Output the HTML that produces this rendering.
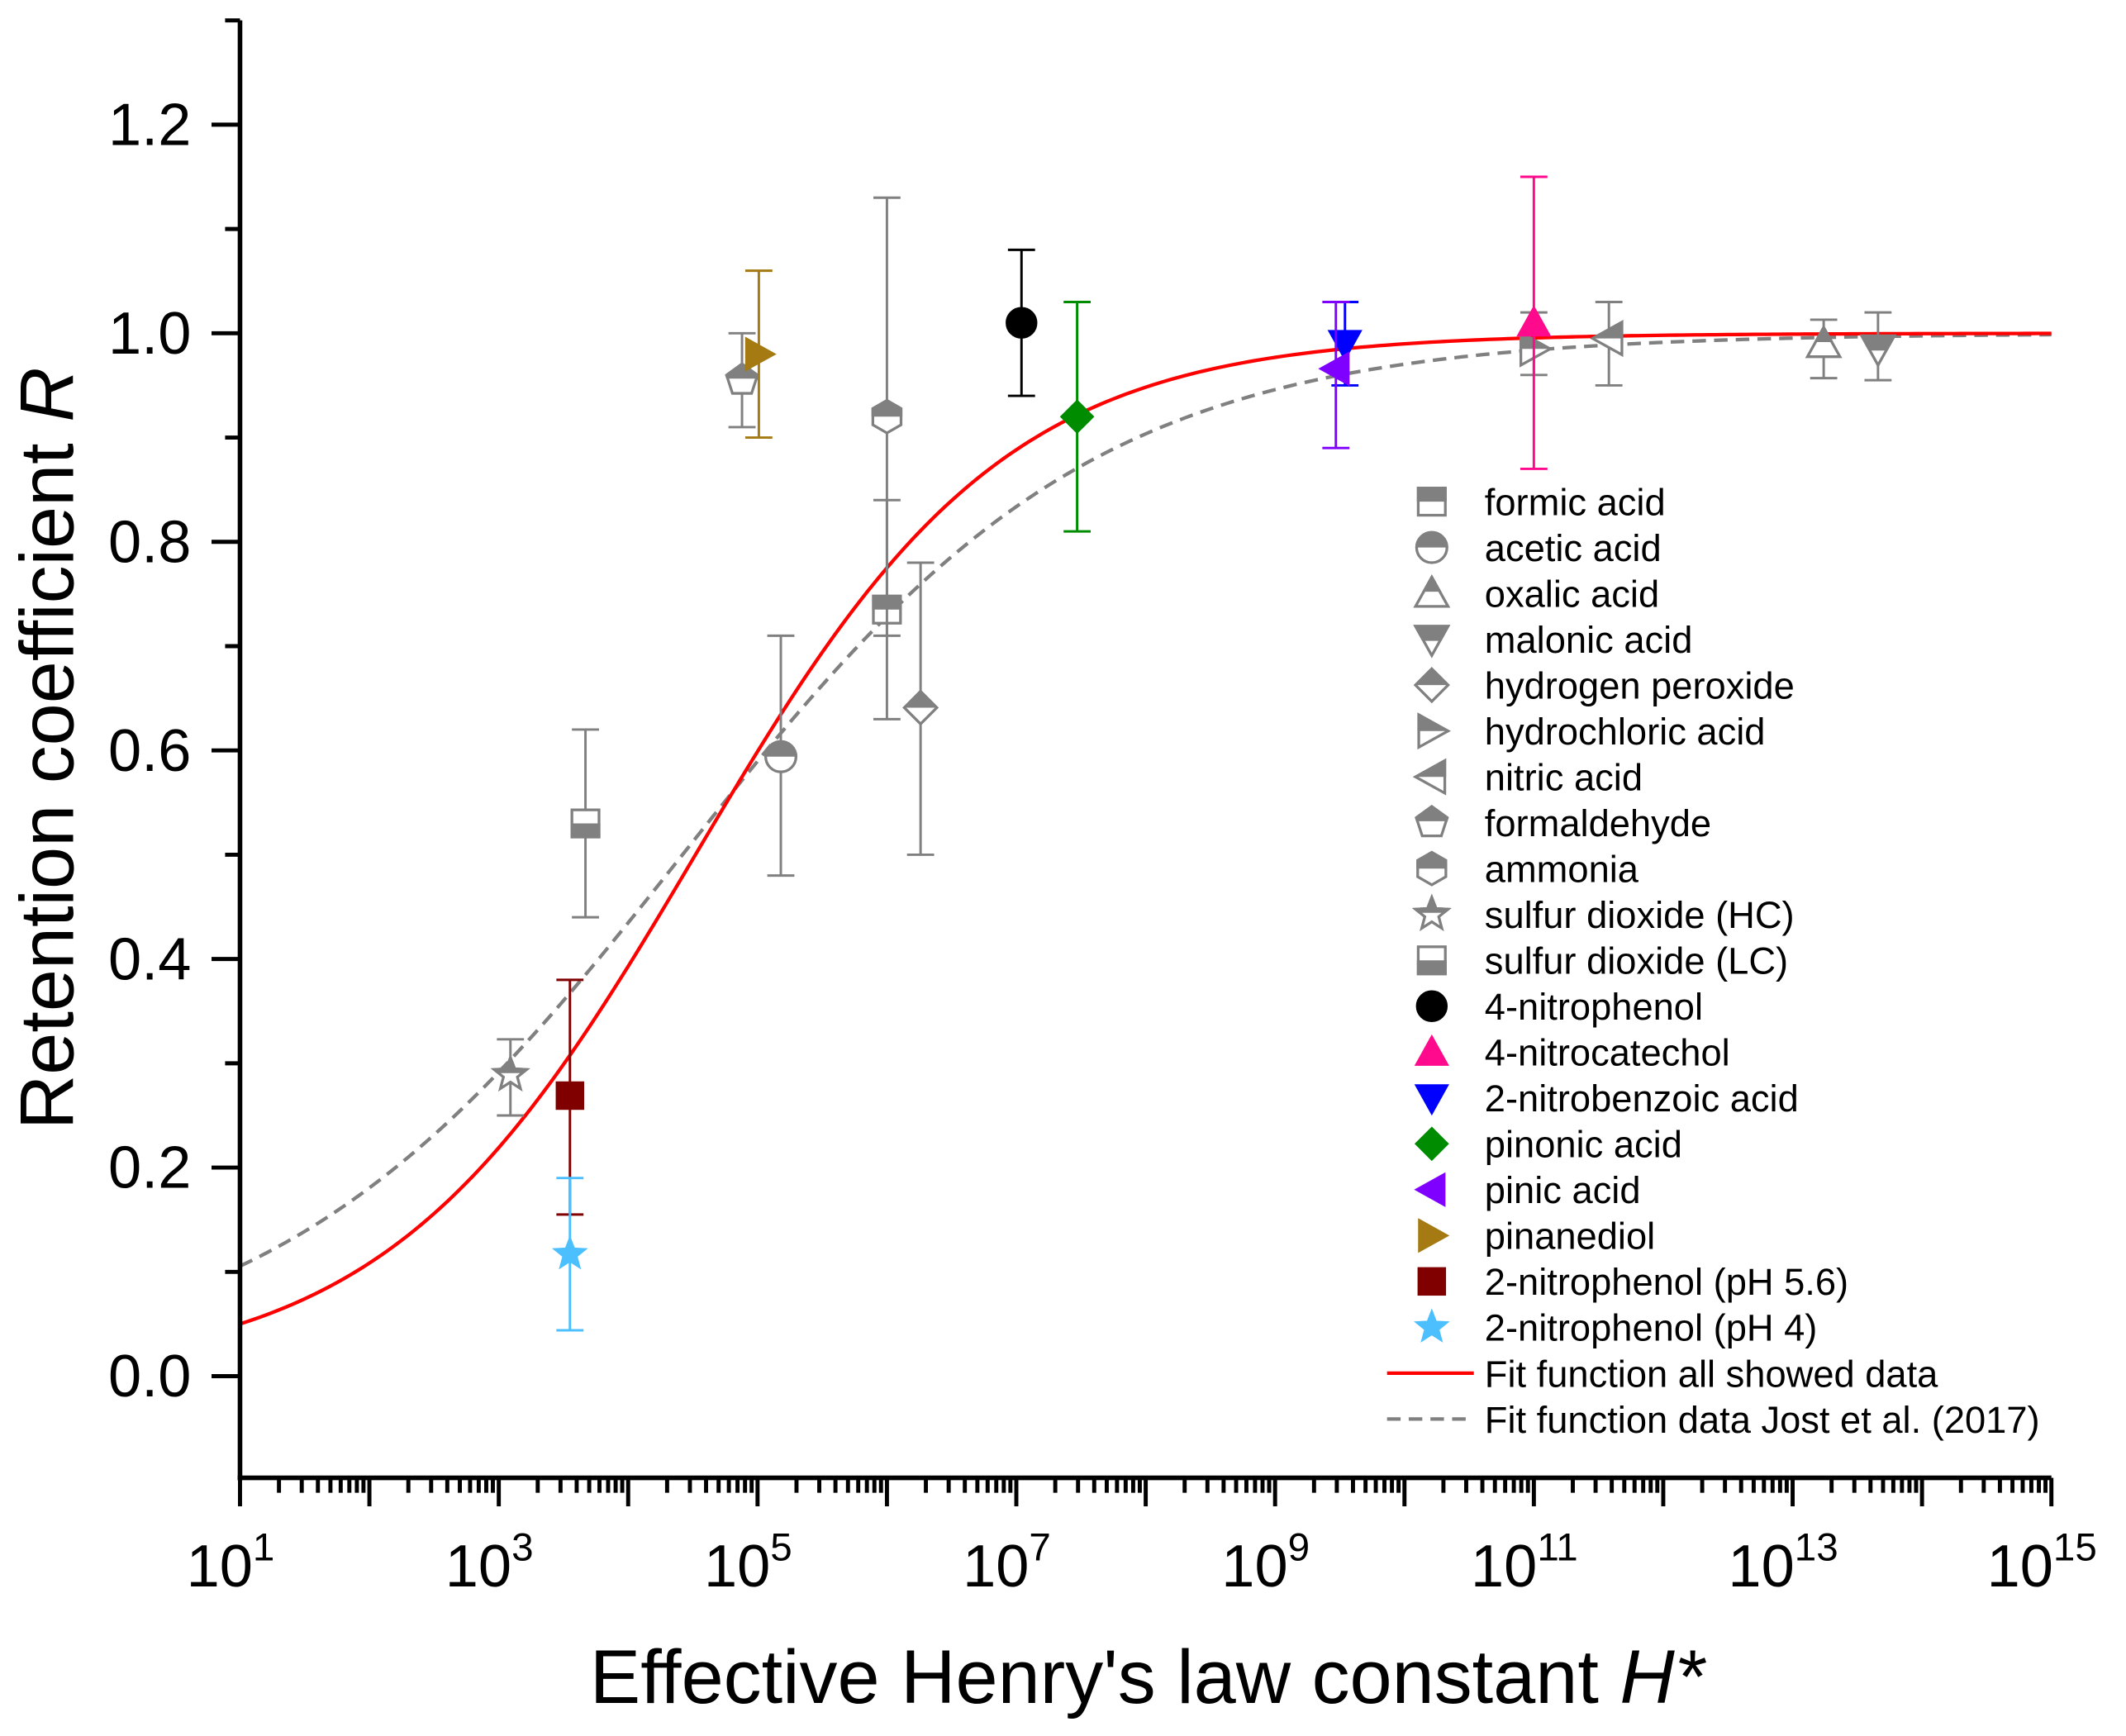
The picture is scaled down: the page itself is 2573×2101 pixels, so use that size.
<!DOCTYPE html>
<html><head><meta charset="utf-8"><style>
html,body{margin:0;padding:0;background:#fff}
svg{display:block}
text{font-family:"Liberation Sans",Arial,sans-serif}
</style></head><body>
<svg id="chart" width="2573" height="2101" viewBox="0 0 1568 1280.4" xmlns="http://www.w3.org/2000/svg">
<defs><clipPath id="topHalf" clipPathUnits="objectBoundingBox"><rect x="-0.1" y="-0.1" width="1.2" height="0.6"/></clipPath>
<clipPath id="botHalf" clipPathUnits="objectBoundingBox"><rect x="-0.1" y="0.5" width="1.2" height="0.6"/></clipPath></defs>
<g id="plot"></g>
</svg>
<script>
const seriesNames=["formic acid","acetic acid","oxalic acid","malonic acid","hydrogen peroxide","hydrochloric acid","nitric acid","formaldehyde","ammonia","sulfur dioxide (HC)","sulfur dioxide (LC)","4-nitrophenol","4-nitrocatechol","2-nitrobenzoic acid","pinonic acid","pinic acid","pinanediol","2-nitrophenol (pH 5.6)","2-nitrophenol (pH 4)"];
const seriesLogH=[6.0,5.18,13.24,13.66,6.26,11.0,11.58,4.88,6.0,3.09,3.67,7.04,11.0,9.54,7.47,9.47,5.01,3.55,3.55];
const seriesR=[0.735,0.594,0.99,0.985,0.641,0.985,0.995,0.955,0.92,0.289,0.53,1.01,1.01,0.99,0.92,0.966,0.98,0.269,0.117];
const errLow=[0.63,0.48,0.957,0.955,0.50,0.96,0.95,0.91,0.71,0.25,0.44,0.94,0.87,0.95,0.81,0.89,0.90,0.155,0.044];
const errHigh=[0.84,0.71,1.013,1.02,0.78,1.02,1.03,1.0,1.13,0.323,0.62,1.08,1.15,1.03,1.03,1.03,1.06,0.38,0.19];
const shapes=["square","circle","up","down","diamond","right","left","pentagon","hexagon","star","square","circle","up","down","diamond","left","right","square","star"];
const fills=["top","top","top","top","top","top","top","top","top","top","bottom","full","full","full","full","full","full","full","full"];
const colors=["#808080","#808080","#808080","#808080","#808080","#808080","#808080","#808080","#808080","#808080","#808080","#000000","#ff0a8c","#0000ff","#008c00","#8000ff","#a57a12","#800000","#4cbfff"];
const xTickExp=[1,3,5,7,9,11,13,15];
const yTicks=[0.0,0.2,0.4,0.6,0.8,1.0,1.2];
const fitRed=[4.52,0.836];
const fitGray=[4.42,0.625];

const NS="http://www.w3.org/2000/svg";
const g=document.getElementById('plot');
const X0=177,X1=1513,Y0=1090,Ytop=15;
const xS=l=>X0+(l-1)*(X1-X0)/14;
const yS=v=>1015-v*769.2;
function mk(tag,at,parent){const e=document.createElementNS(NS,tag);for(const k in at)e.setAttribute(k,at[k]);(parent||g).appendChild(e);return e;}

function curve(p,stroke,dash,name){let d="";for(let l=1;l<=15.0001;l+=0.05){const r=1/(1+Math.exp(-(l-p[0])*p[1]));d+=(d?"L":"M")+xS(l).toFixed(2)+","+yS(r).toFixed(2);}
const e=mk('path',{d:d,fill:'none',stroke:stroke,'stroke-width':2.6,'stroke-dasharray':dash});

}
curve(fitGray,'#808080','10,6','fit-curve-jost-2017');
curve(fitRed,'#ff0000','none','fit-curve-all-data');

function shapeEl(type,cx,cy,s,attrs,parent){
  let e;
  if(type==="square") e=mk('rect',Object.assign({x:cx-s,y:cy-s,width:2*s,height:2*s},attrs),parent);
  else if(type==="circle") e=mk('circle',Object.assign({cx:cx,cy:cy,r:s*1.12},attrs),parent);
  else {
    let pts=[];const k=s*1.2;
    if(type==="up") pts=[[0,-k],[k,k*0.8],[-k,k*0.8]];
    else if(type==="down") pts=[[0,k],[k,-k*0.8],[-k,-k*0.8]];
    else if(type==="diamond") pts=[[0,-k],[k,0],[0,k],[-k,0]];
    else if(type==="right") pts=[[-k*0.8,-k],[k,0],[-k*0.8,k]];
    else if(type==="left") pts=[[k*0.8,-k],[-k,0],[k*0.8,k]];
    else if(type==="pentagon"){for(let i=0;i<5;i++){const a=-Math.PI/2+i*2*Math.PI/5;pts.push([k*Math.cos(a),k*Math.sin(a)]);}}
    else if(type==="hexagon"){for(let i=0;i<6;i++){const a=-Math.PI/2+i*Math.PI/3;pts.push([k*Math.cos(a),k*Math.sin(a)]);}}
    else if(type==="star"){for(let i=0;i<10;i++){const a=-Math.PI/2+i*Math.PI/5;const r=i%2?k*0.45:k*1.05;pts.push([r*Math.cos(a),r*Math.sin(a)]);}}
    e=mk('polygon',Object.assign({points:pts.map(p=>(cx+p[0]).toFixed(2)+","+(cy+p[1]).toFixed(2)).join(" ")},attrs),parent);
  }
  return e;
}
function marker(i,cx,cy,parent){
  const c=colors[i],s=10;
  if(fills[i]==="full"){shapeEl(shapes[i],cx,cy,s,{fill:c,stroke:c,'stroke-width':1},parent);}
  else{
    shapeEl(shapes[i],cx,cy,s,{fill:'#fff',stroke:c,'stroke-width':2},parent);
    shapeEl(shapes[i],cx,cy,s,{fill:c,stroke:c,'stroke-width':2,'clip-path':fills[i]==="top"?'url(#topHalf)':'url(#botHalf)'},parent);
  }
}

for(let i=0;i<seriesNames.length;i++){
  const cx=xS(seriesLogH[i]),cy=yS(seriesR[i]);
  const grp=mk('g',{});
  
  
  const yl=yS(errLow[i]),yh=yS(errHigh[i]);
  mk('line',{x1:cx,x2:cx,y1:yl,y2:yh,stroke:colors[i],'stroke-width':1.8},grp);
  mk('line',{x1:cx-10,x2:cx+10,y1:yl,y2:yl,stroke:colors[i],'stroke-width':1.8},grp);
  mk('line',{x1:cx-10,x2:cx+10,y1:yh,y2:yh,stroke:colors[i],'stroke-width':1.8},grp);
  marker(i,cx,cy,grp);
}

const ax=mk('g',{});


mk('line',{x1:X0,x2:X0,y1:Ytop,y2:Y0+1.7,stroke:'#000','stroke-width':3.4},ax);
mk('line',{x1:X0-1.7,x2:X1,y1:Y0,y2:Y0,stroke:'#000','stroke-width':3.4},ax);
for(let d=1;d<=15;d++){
  mk('line',{x1:xS(d),x2:xS(d),y1:Y0,y2:Y0+21,stroke:'#000','stroke-width':3},ax);
  if(d<15)for(let m=2;m<=9;m++){const x=xS(d+Math.log10(m));mk('line',{x1:x,x2:x,y1:Y0,y2:Y0+11,stroke:'#000','stroke-width':3},ax);}
}
xTickExp.forEach(e=>{
  const t=mk('text',{x:xS(e)-7,y:1170,'font-size':44,'text-anchor':'middle'},ax);
  
  
  t.textContent="10";
  const s=mk('tspan',{dy:-19,'font-size':29},t);s.textContent=String(e);
});
for(let k=-1;k<=13;k++){const v=k/10,y=yS(v);if(y>Y0+1||y<Ytop)continue;
  mk('line',{x1:X0,x2:X0-(k%2===0?21:11),y1:y,y2:y,stroke:'#000','stroke-width':3},ax);}
yTicks.forEach(v=>{
  const t=mk('text',{x:141,y:yS(v)+15,'font-size':44,'text-anchor':'end'},ax);
  
  
  t.textContent=v.toFixed(1);
});
const yt=mk('text',{x:0,y:0,'font-size':56,'text-anchor':'middle',transform:'translate(54,552) rotate(-90)'});


yt.textContent="Retention coefficient ";
const yi=mk('tspan',{'font-style':'italic'},yt);yi.textContent="R";
const xt=mk('text',{x:846,y:1256,'font-size':56,'text-anchor':'middle'});


xt.textContent="Effective Henry's law constant ";
const xi=mk('tspan',{'font-style':'italic'},xt);xi.textContent="H*";

const lg=mk('g',{});


const rowH=33.83,ly0=370;
for(let i=0;i<seriesNames.length;i++){
  const y=ly0+i*rowH;
  const e=mk('g',{},lg);
  
  
  marker(i,1056,y,e);
  const t=mk('text',{x:1095,y:y+10,'font-size':27.6},e);t.textContent=seriesNames[i];
}
const lines=[["Fit function all showed data","#ff0000","none"],["Fit function data Jost et al. (2017)","#808080","10,6"]];
lines.forEach((L,j)=>{
  const y=ly0+(19+j)*rowH;
  const e=mk('g',{},lg);
  
  
  mk('line',{x1:1023,x2:1087,y1:y,y2:y,stroke:L[1],'stroke-width':2.6,'stroke-dasharray':L[2]},e);
  const t=mk('text',{x:1095,y:y+10,'font-size':27.6},e);t.textContent=L[0];
});
</script>
</body></html>
